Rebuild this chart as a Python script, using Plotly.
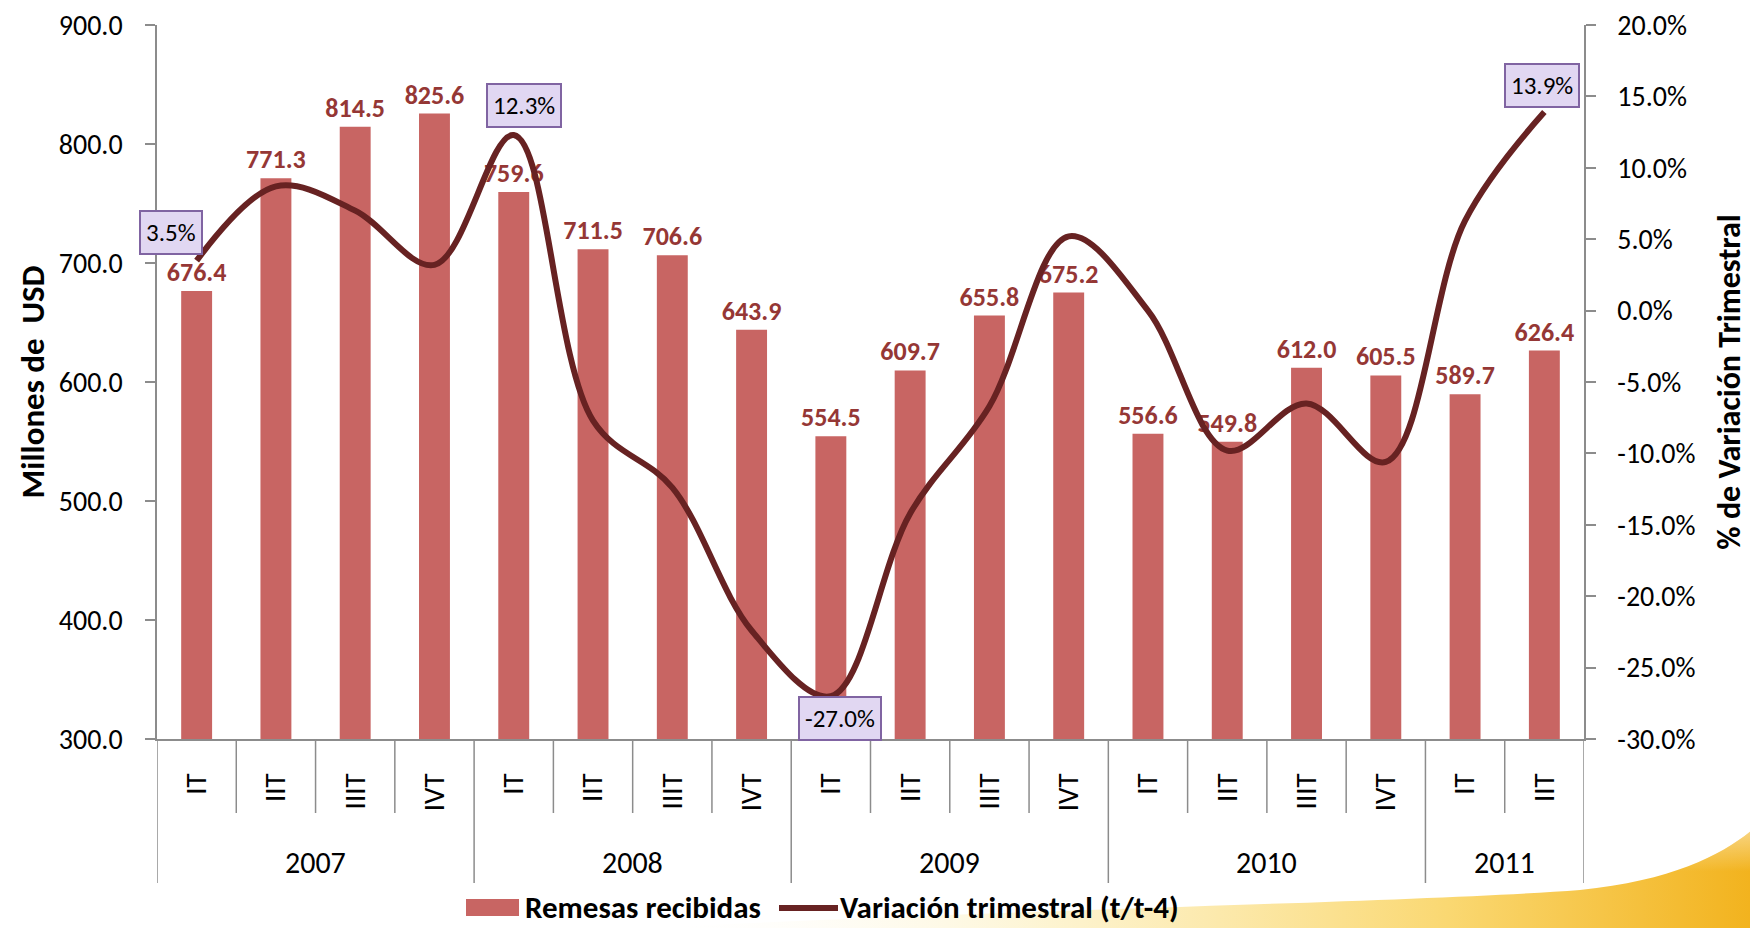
import base64
import plotly.graph_objects as go

# ---------------- data ----------------
quarters = ["IT", "IIT", "IIIT", "IVT",
            "IT", "IIT", "IIIT", "IVT",
            "IT", "IIT", "IIIT", "IVT",
            "IT", "IIT", "IIIT", "IVT",
            "IT", "IIT"]
years = ["2007"] * 4 + ["2008"] * 4 + ["2009"] * 4 + ["2010"] * 4 + ["2011"] * 2
remesas = [676.4, 771.3, 814.5, 825.6,
           759.6, 711.5, 706.6, 643.9,
           554.5, 609.7, 655.8, 675.2,
           556.6, 549.8, 612.0, 605.5,
           589.7, 626.4]
variacion = [3.5, 8.7, 7.0, 3.2,
             12.3, -7.7, -12.4, -22.4,
             -27.0, -14.2, -6.7, 5.2,
             0.0, -9.8, -6.5, -10.6,
             6.3, 13.9]
y2_ticks = [-30, -25, -20, -15, -10, -5, 0, 5, 10, 15, 20]
y2_ticktext = ["-30.0%", "-25.0%", "-20.0%", "-15.0%", "-10.0%", "-5.0%",
               "0.0%", "5.0%", "10.0%", "15.0%", "20.0%"]
series_names = ["Remesas recibidas", "Variación trimestral (t/t-4)"]
# labelled points of the line: index -> (x shift, y shift) in px
callouts = {0: (-26, 28), 4: (10, 29), 8: (9, -22), 17: (-2, 27)}

# ---------------- style ----------------
FONT = "Carlito, Calibri, Lato, sans-serif"
BAR_COLOR = "#C86563"
LABEL_COLOR = "#953735"
LINE_COLOR = "#672222"
AXIS_COLOR = "#8C8C8C"

# the page body has an 8px margin: the figure is sized so the plot lands
# at the same page pixels as the reference
OFF = 8
W, H = 1758 - OFF, 928 - OFF
L, R, T, B = 157 - OFF, 174, 25 - OFF, 189
PW, PH = W - L - R, H - T - B


def py(page_pix):
    """page pixel row -> paper y"""
    return (H - B - (page_pix - OFF)) / PH


def px(page_pix):
    """page pixel column -> paper x"""
    return (page_pix - OFF - L) / PW


x = list(range(len(quarters)))

fig = go.Figure()
fig.add_trace(go.Bar(
    x=x, y=remesas, name=series_names[0], showlegend=False,
    marker=dict(color=BAR_COLOR, line=dict(width=0)),
    width=0.39,
    texttemplate="%{y:.1f}", textposition="outside", cliponaxis=False,
    constraintext="none",
    textfont=dict(family=FONT, size=26, color=LABEL_COLOR, weight="bold"),
    hoverinfo="skip",
))
fig.add_trace(go.Scatter(
    x=x, y=variacion, name=series_names[1], yaxis="y2", showlegend=False,
    mode="lines", line=dict(color=LINE_COLOR, width=6, shape="spline", smoothing=1.0),
    cliponaxis=False, hoverinfo="skip",
))

annotations = []
for i, (dx, dy) in callouts.items():
    annotations.append(dict(
        x=x[i], y=variacion[i], xref="x", yref="y2",
        text=f"{variacion[i]:.1f}%", showarrow=False,
        xshift=dx, yshift=dy,
        font=dict(family=FONT, size=25, color="#000000"),
        bgcolor="#E1D7F2", bordercolor="#8064A2", borderwidth=2, borderpad=5,
    ))

# year labels and category dividers
shapes = []
starts = [0]
for i in range(1, len(years)):
    if years[i] != years[i - 1]:
        starts.append(i)
starts.append(len(years))
for a, b in zip(starts[:-1], starts[1:]):
    annotations.append(dict(
        x=(a + b - 1) / 2, y=py(862), xref="x", yref="paper",
        text=years[a], showarrow=False, yanchor="middle",
        font=dict(family=FONT, size=30, color="#000000"),
    ))
for k in range(len(quarters) + 1):
    long_div = k in starts
    shapes.append(dict(
        type="line", xref="x", yref="paper",
        x0=k - 0.5, x1=k - 0.5, y0=0, y1=py(883 if long_div else 813),
        line=dict(color=AXIS_COLOR, width=1.5),
    ))

# legend (swatches + labels) along the bottom
LEG_Y = 907
LEG_FONT = dict(family=FONT, size=31, color="#000000", weight="bold")
shapes.append(dict(type="rect", xref="paper", yref="paper",
                   x0=px(466), x1=px(519), y0=py(LEG_Y - 8), y1=py(LEG_Y + 9),
                   fillcolor=BAR_COLOR, line=dict(width=0)))
annotations.append(dict(x=px(523), y=py(LEG_Y), xref="paper", yref="paper",
                        xanchor="left", yanchor="middle", showarrow=False,
                        text=series_names[0], font=LEG_FONT))
shapes.append(dict(type="line", xref="paper", yref="paper",
                   x0=px(779), x1=px(838), y0=py(LEG_Y + 1), y1=py(LEG_Y + 1),
                   line=dict(color=LINE_COLOR, width=6)))
annotations.append(dict(x=px(838), y=py(LEG_Y), xref="paper", yref="paper",
                        xanchor="left", yanchor="middle", showarrow=False,
                        text=series_names[1], font=LEG_FONT))

# decorative swoosh in the bottom-right corner
svg = f'''<svg xmlns="http://www.w3.org/2000/svg" width="{W}" height="{H}" viewBox="0 0 {W} {H}" preserveAspectRatio="none">
<defs><linearGradient id="g" x1="0" y1="0" x2="1" y2="0">
<stop offset="0" stop-color="#ffffff" stop-opacity="0"/>
<stop offset="0.35" stop-color="#fdf3cc" stop-opacity="0.85"/>
<stop offset="0.72" stop-color="#fad872"/>
<stop offset="1" stop-color="#f2b21c"/>
</linearGradient>
<linearGradient id="h" x1="0" y1="0" x2="0" y2="1">
<stop offset="0" stop-color="#ffffff" stop-opacity="0.5"/>
<stop offset="0.45" stop-color="#ffffff" stop-opacity="0"/>
</linearGradient></defs>
<path d="M 640 920 C 990 902 1410 894 1572 882 C 1672 872 1722 842 1750 817 L 1750 920 Z" fill="url(#g)"/>
<path d="M 640 920 C 990 902 1410 894 1572 882 C 1672 872 1722 842 1750 817 L 1750 920 Z" fill="url(#h)"/>
</svg>'''
src = "data:image/svg+xml;base64," + base64.b64encode(svg.encode()).decode()

fig.update_layout(
    width=W, height=H, autosize=False,
    margin=dict(l=L, r=R, t=T, b=B, autoexpand=False),
    paper_bgcolor="white", plot_bgcolor="rgba(0,0,0,0)",
    font=dict(family=FONT, color="#000000"),
    showlegend=False,
    xaxis=dict(
        range=[-0.5, len(quarters) - 0.5],
        tickmode="array", tickvals=x, ticktext=quarters, tickangle=-90,
        ticks="", showgrid=False, zeroline=False,
        showline=True, linecolor=AXIS_COLOR, linewidth=1.5,
        tickfont=dict(family=FONT, size=29, color="#000000"),
        ticklabelstandoff=21,
    ),
    yaxis=dict(
        range=[300, 900], dtick=100, tickformat=".1f",
        showgrid=False, zeroline=False,
        showline=True, linecolor=AXIS_COLOR, linewidth=1.5,
        ticks="outside", ticklen=10, tickwidth=1.5, tickcolor=AXIS_COLOR,
        tickfont=dict(family=FONT, size=28, color="#000000"),
        ticklabelstandoff=17, ticklabeloverflow="allow",
        title=dict(text="Millones de  USD", standoff=4,
                   font=dict(family=FONT, size=33, color="#000000", weight="bold")),
    ),
    yaxis2=dict(
        range=[-30, 20], tickmode="array", tickvals=y2_ticks, ticktext=y2_ticktext,
        overlaying="y", side="right",
        showgrid=False, zeroline=False,
        showline=True, linecolor=AXIS_COLOR, linewidth=1.5,
        ticks="outside", ticklen=10, tickwidth=1.5, tickcolor=AXIS_COLOR,
        tickfont=dict(family=FONT, size=28, color="#000000"),
        ticklabelstandoff=16, ticklabeloverflow="allow",
        title=dict(text="% de Variación Trimestral", standoff=23,
                   font=dict(family=FONT, size=32, color="#000000", weight="bold")),
    ),
    annotations=annotations,
    shapes=shapes,
    images=[dict(
        source=src, xref="paper", yref="paper",
        x=-L / PW, y=(H - B) / PH, sizex=W / PW, sizey=H / PH,
        xanchor="left", yanchor="top", sizing="stretch", layer="below",
    )],
)

fig.write_html("out.html")
